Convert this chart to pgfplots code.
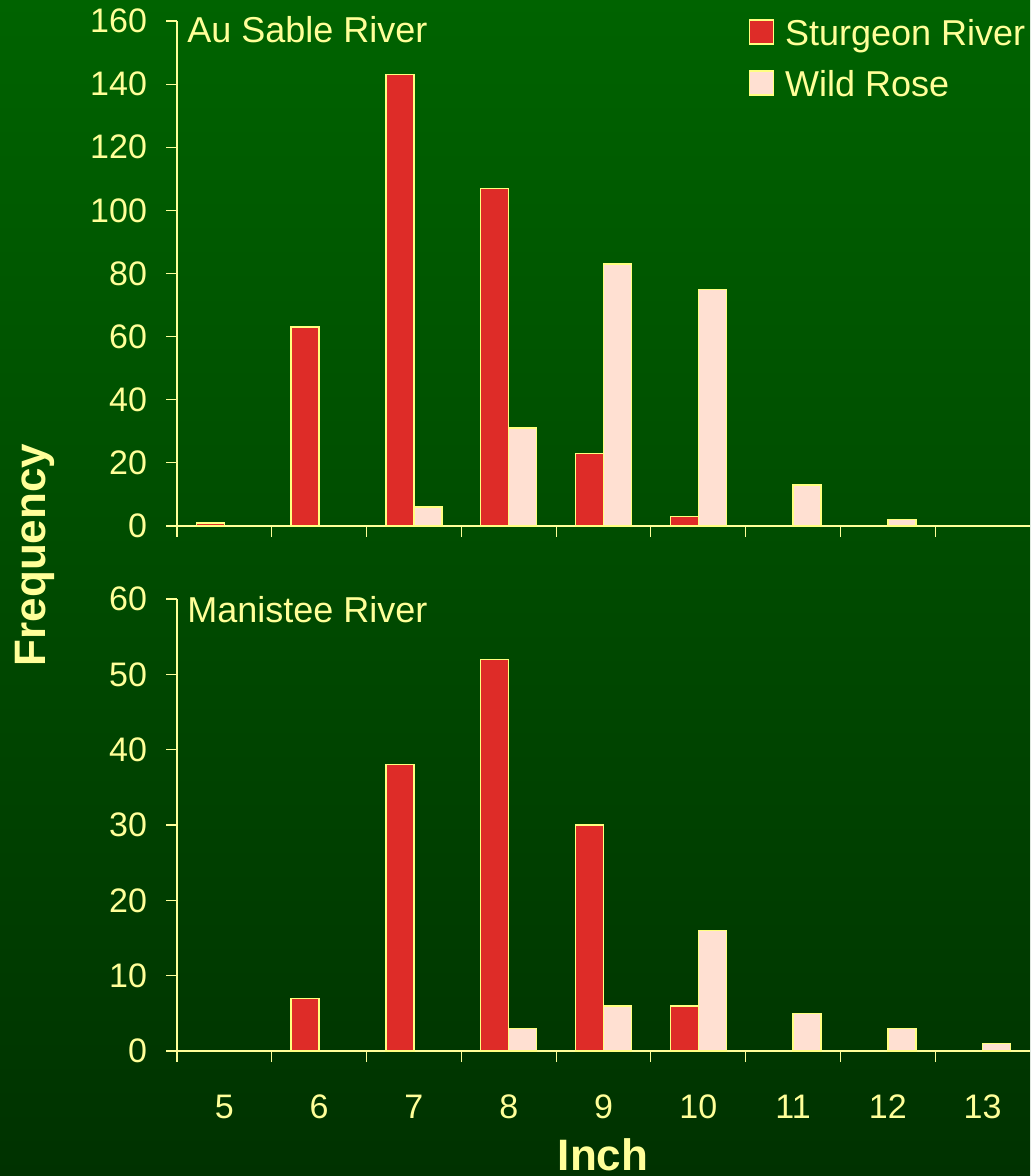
\documentclass[border=0pt]{standalone}
\usepackage{pgfplots}
\pgfplotsset{compat=1.18}
\usepackage{fontspec}
\setmainfont{Liberation Sans}
\definecolor{txt}{RGB}{255,255,153}
\definecolor{edge}{RGB}{255,255,128}
\definecolor{redbar}{RGB}{222,44,40}
\definecolor{pinkbar}{RGB}{255,224,210}
\definecolor{bgtop}{RGB}{0,99,0}
\definecolor{bgbot}{RGB}{0,50,0}
\pgfplotsset{
  panel/.style={
    scale only axis, width=426.5pt, xmin=4.5, xmax=13.5, ymin=0,
    axis lines=left, axis line style={txt, line width=0.6pt, -},
    ybar=0pt, bar width=14pt,
    xtick={5,...,13}, major x tick style={draw=none},
    minor xtick={4.5,5.5,...,12.5},
    tick align=outside, major tick length=5.5pt, minor tick length=5.5pt,
    tick style={txt, line width=0.6pt},
    ticklabel style={font=\fontsize{17}{20}\selectfont, text=txt},
    yticklabel style={xshift=-6pt},
    xticklabel style={yshift=-13pt},
    /pgf/number format/assume math mode=true,
    clip=false,
  },
  redp/.style={fill=redbar, draw=edge, line width=0.75pt, bar shift=-7pt},
  pinkp/.style={fill=pinkbar, draw=edge, line width=0.75pt, bar shift=7pt},
}
\begin{document}
\begin{tikzpicture}
\useasboundingbox (0,0) rectangle (515pt,588pt);
\shade[top color=bgtop, bottom color=bgbot] (0,0) rectangle (515pt,588pt);
% top panel
\begin{axis}[panel, at={(88.5pt,325pt)}, anchor=south west,
  height=252.5pt, ymax=160, ytick={0,20,...,160}, xticklabels={,,,,,,,,},
  legend style={at={(rel axis cs:0.672,1)}, anchor=north west, xshift=-1pt, yshift=2pt,
    draw=none, fill=none, text=txt, font=\fontsize{18}{21}\selectfont,
    legend cell align=left, row sep=9pt, column sep=4.5pt, inner sep=0pt, nodes={inner sep=1pt}},
]
\addplot[redp, forget plot] coordinates {(5,1) (6,63) (7,143) (8,107) (9,23) (10,3)};
\addplot[pinkp, forget plot] coordinates {(7,6) (8,31) (9,83) (10,75) (11,13) (12,2)};
\addlegendimage{legend image code/.code={\draw[fill=redbar,draw=edge,line width=0.75pt] (0pt,-5pt) rectangle (12pt,7pt);}}
\addlegendentry{Sturgeon River}
\addlegendimage{legend image code/.code={\draw[fill=pinkbar,draw=edge,line width=0.75pt] (0pt,-5pt) rectangle (12pt,7pt);}}
\addlegendentry{Wild Rose}
\node[anchor=base west, inner sep=0pt, text=txt, font=\fontsize{18}{21}\selectfont, xshift=5pt, yshift=-11pt] at (rel axis cs:0,1) {Au Sable River};
\end{axis}
% bottom panel
\begin{axis}[panel, at={(88.5pt,62.5pt)}, anchor=south west,
  height=226pt, ymax=60, ytick={0,10,...,60},
]
\addplot[redp] coordinates {(6,7) (7,38) (8,52) (9,30) (10,6)};
\addplot[pinkp] coordinates {(8,3) (9,6) (10,16) (11,5) (12,3) (13,1)};
\node[anchor=base west, inner sep=0pt, text=txt, font=\fontsize{18}{21}\selectfont, xshift=5pt, yshift=-12pt] at (rel axis cs:0,1) {Manistee River};
\end{axis}
\node[rotate=90, anchor=center, inner sep=0pt, text=txt, font=\bfseries\fontsize{22}{26}\selectfont] at (17.5pt,310.5pt) {Frequency};
\node[anchor=base, inner sep=0pt, text=txt, font=\bfseries\fontsize{22}{26}\selectfont] at (301.5pt,2.5pt) {Inch};
\end{tikzpicture}
\end{document}
